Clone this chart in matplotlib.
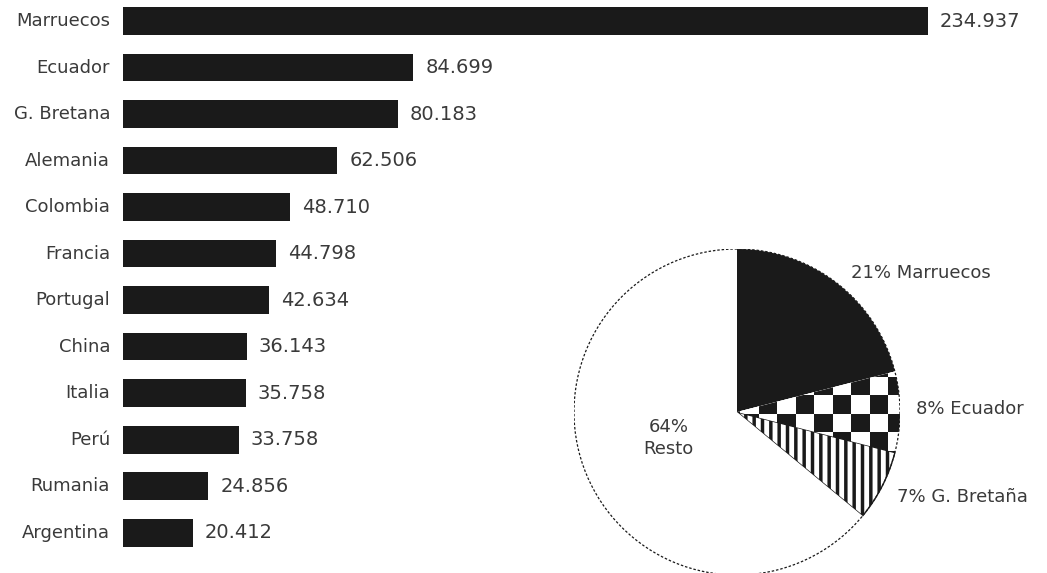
import numpy as np
import matplotlib
matplotlib.use("Agg")
import matplotlib.pyplot as plt
from matplotlib.patches import Wedge, Circle
from matplotlib.colors import ListedColormap

# data
countries = ["Marruecos", "Ecuador", "G. Bretana", "Alemania", "Colombia", "Francia",
             "Portugal", "China", "Italia", "Perú", "Rumania", "Argentina"]
values = [234937, 84699, 80183, 62506, 48710, 44798, 42634, 36143, 35758, 33758, 24856, 20412]
value_labels = ["234.937", "84.699", "80.183", "62.506", "48.710", "44.798",
                "42.634", "36.143", "35.758", "33.758", "24.856", "20.412"]

pie_labels = ["21% Marruecos", "8% Ecuador", "7% G. Bretaña", "64%\nResto"]
pie_shares = [21, 8, 7, 64]

plt.rcParams['font.family'] = ['DejaVu Sans']
plt.rcParams['hatch.linewidth'] = 2.5
txt = "#3a3a3a"
dark = "#1a1a1a"

W, H = 1047, 573
fig = plt.figure(figsize=(W / 100, H / 100), dpi=100)

# ------------------------------
# bar chart
# ------------------------------
ax = fig.add_axes([123 / W, 13 / H, 805 / W, 560 / H])
y = np.arange(len(countries))
ax.barh(y, values, height=0.6, color=dark)
ax.set_xlim(0, max(values))
ax.set_ylim(11.59, -0.452)
ax.axis("off")
for i, (c, v, lab) in enumerate(zip(countries, values, value_labels)):
    ax.annotate(c, (0, i), xytext=(-13, 0), textcoords="offset pixels",
                ha="right", va="center", fontsize=13, color=txt)
    ax.annotate(lab, (v, i), xytext=(12, 0), textcoords="offset pixels",
                ha="left", va="center", fontsize=14, color=txt)

# ------------------------------
# pie chart
# ------------------------------
r_px = 163
cx, cy = 737, 573 - 412
pax = fig.add_axes([(cx - r_px) / W, (cy - r_px) / H, 2 * r_px / W, 2 * r_px / H])
pax.set_xlim(-1, 1)
pax.set_ylim(-1, 1)
pax.set_aspect("equal")
pax.axis("off")

angles = 90 - 3.6 * np.cumsum([0] + pie_shares)
wedges = []
for k in range(len(pie_shares)):
    w = Wedge((0, 0), 1, angles[k + 1], angles[k], linewidth=0)
    wedges.append(w)
    pax.add_patch(w)

wedges[0].set_facecolor(dark)
wedges[1].set_facecolor("white")
wedges[2].set_facecolor("white")
wedges[2].set_hatch("||")
wedges[2].set_edgecolor(dark)
wedges[2].set_linewidth(1.0)
wedges[3].set_facecolor("white")

# checkerboard for Ecuador
cell = 0.113
x0, y0 = 0.583 - 6 * cell, -0.018 - 6 * cell
n = 12
board = np.indices((n, n)).sum(axis=0) % 2
im = pax.imshow(board, cmap=ListedColormap(["white", dark]), vmin=0, vmax=1,
                interpolation="nearest",
                extent=(x0, x0 + n * cell, y0, y0 + n * cell), zorder=2)
im.set_clip_path(wedges[1])

# dashed outline
pax.add_patch(Circle((0, 0), 1, fill=False, linestyle=(0, (2, 1.5)), linewidth=0.9,
                     edgecolor=dark, zorder=3))

pax.text(0.70, 0.85, pie_labels[0], fontsize=13, color=txt, ha="left", va="center")
pax.text(1.10, 0.02, pie_labels[1], fontsize=13, color=txt, ha="left", va="center")
pax.text(0.98, -0.52, pie_labels[2], fontsize=13, color=txt, ha="left", va="center",
         clip_on=False)
pax.text(-0.42, -0.16, pie_labels[3], fontsize=13, color=txt, ha="center", va="center",
         linespacing=1.3)

fig.savefig("out.png", dpi=100)
